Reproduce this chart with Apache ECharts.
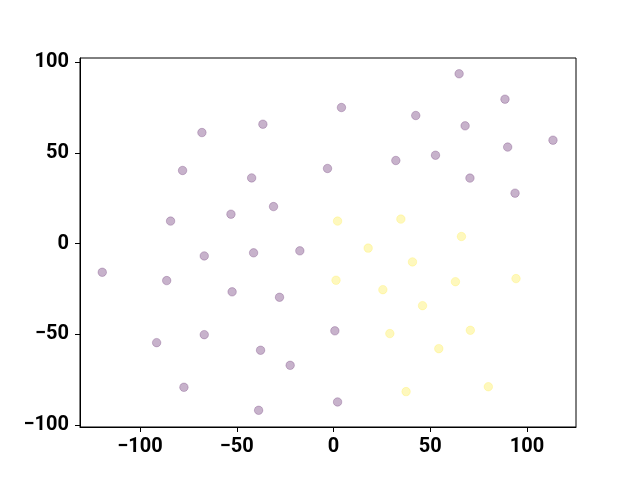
<!DOCTYPE html>
<html>
<head>
<meta charset="utf-8">
<script src="https://cdn.jsdelivr.net/npm/echarts@6/dist/echarts.min.js"></script>
<style>html,body{margin:0;padding:0;background:#fff}#c{width:640px;height:480px}</style>
</head>
<body>
<div id="c"></div>
<script>
const purpleX = [-119.5,-68.0,-78.0,-84.2,-53.0,-66.8,-86.2,-52.4,-91.4,-66.8,-77.3,-36.5,4.1,42.5,-42.3,-3.1,32.2,52.7,-31.0,-41.3,-17.4,-27.9,0.7,-37.7,-22.4,-38.7,2.1,64.9,88.6,68.0,113.4,90.0,70.5,93.8];
const purpleY = [-15.8,61.2,40.3,12.4,16.2,-6.8,-20.4,-26.6,-54.6,-50.2,-79.2,65.8,75.0,70.6,36.2,41.4,45.8,48.7,20.4,-5.1,-4.0,-29.6,-48.1,-58.8,-67.1,-91.9,-87.3,93.6,79.6,64.9,57.0,53.2,36.1,27.8];
const yellowX = [2.1,34.8,17.9,66.1,40.8,1.3,25.5,63.0,94.3,46.0,29.1,70.7,54.4,80.0,37.5];
const yellowY = [12.4,13.5,-2.5,3.9,-10.1,-20.2,-25.4,-21.0,-19.3,-34.2,-49.6,-47.8,-57.9,-78.9,-81.6];
const xTicks = [-100,-50,0,50,100];
const yTicks = [-100,-50,0,50,100];

const zip = (a,b) => a.map((v,i)=>[v,b[i]]);
const fmt = v => String(v).replace('-', '\u2212');
const labelStyle = {color:'#000', fontFamily:'Roboto', fontWeight:700, fontSize:20};

const chart = echarts.init(document.getElementById('c'));
chart.setOption({
  animation:false,
  backgroundColor:'#fff',
  grid:{left:80, right:64, top:58, bottom:53, show:true, borderColor:'#000', borderWidth:1, backgroundColor:'transparent'},
  xAxis:{type:'value', min:-131.0, max:125.3,
    axisLine:{show:true, onZero:false, lineStyle:{color:'#000', width:1}},
    axisTick:{show:true, inside:false, length:5, customValues:xTicks, lineStyle:{color:'#000'}},
    axisLabel:Object.assign({margin:10, customValues:xTicks, formatter:fmt}, labelStyle),
    splitLine:{show:false}},
  yAxis:{type:'value', min:-101.1, max:102.3,
    axisLine:{show:true, onZero:false, lineStyle:{color:'#000', width:1}},
    axisTick:{show:true, inside:false, length:5, customValues:yTicks, lineStyle:{color:'#000'}},
    axisLabel:Object.assign({margin:11, customValues:yTicks, formatter:fmt}, labelStyle),
    splitLine:{show:false}},
  series:[
    {type:'scatter', data:zip(purpleX,purpleY), symbolSize:8.5,
      itemStyle:{color:'rgba(68,1,84,0.3)', borderColor:'rgba(68,1,84,0.22)', borderWidth:1, opacity:1}},
    {type:'scatter', data:zip(yellowX,yellowY), symbolSize:8.5,
      itemStyle:{color:'rgba(253,231,37,0.3)', borderColor:'rgba(253,231,37,0.22)', borderWidth:1, opacity:1}}
  ]
});
</script>
</body>
</html>
